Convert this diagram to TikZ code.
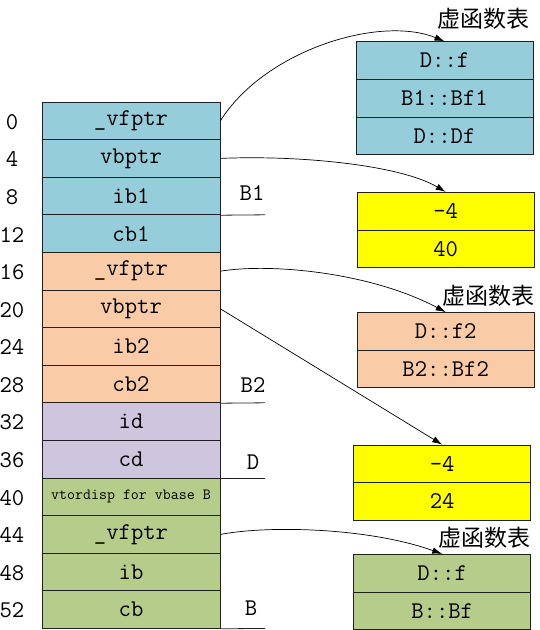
\documentclass[tikz,border=0pt]{standalone}
\usepackage{fontspec}
\newfontfamily\cjk{Noto Sans CJK SC}
\usetikzlibrary{arrows.meta}
\definecolor{cblue}{HTML}{96CDDB}
\definecolor{cpeach}{HTML}{F9CBA7}
\definecolor{clav}{HTML}{CEC6DE}
\definecolor{cgreen}{HTML}{B6CC8B}
\definecolor{cyell}{HTML}{FFFF00}
\definecolor{cline}{HTML}{202020}
\begin{document}
\begin{tikzpicture}[x=1pt,y=-1pt,
  cell/.style={draw=cline, line width=0.8pt, minimum width=178pt, minimum height=37.6pt,
    inner sep=0pt, font=\fontsize{24}{24}\ttfamily},
  rcell/.style={cell, minimum width=177pt},
  small/.style={font=\fontsize{15.5}{15.5}\ttfamily},
  off/.style={inner sep=0pt, font=\fontsize{24}{24}\ttfamily},
  lbl/.style={inner sep=0pt, font=\fontsize{24}{24}\ttfamily},
  ttl/.style={inner sep=0pt, font=\cjk\fontsize{23}{23}\selectfont},
  sep/.style={draw=cline, line width=0.8pt},
  arr/.style={draw=black, line width=0.7pt, -{Latex[length=10pt,width=6.5pt]}}]
\useasboundingbox (0,0) rectangle (540,630);

% left column
\node[cell, fill=cblue]   (r0)  at (131,120.8) {\_vfptr};
\node[cell, fill=cblue]   (r1)  at (131,158.4) {vbptr};
\node[cell, fill=cblue]   (r2)  at (131,196.0) {ib1};
\node[cell, fill=cblue]   (r3)  at (131,233.6) {cb1};
\node[cell, fill=cpeach]  (r4)  at (131,271.2) {\_vfptr};
\node[cell, fill=cpeach]  (r5)  at (131,308.8) {vbptr};
\node[cell, fill=cpeach]  (r6)  at (131,346.4) {ib2};
\node[cell, fill=cpeach]  (r7)  at (131,384.0) {cb2};
\node[cell, fill=clav]    (r8)  at (131,421.6) {id};
\node[cell, fill=clav]    (r9)  at (131,459.2) {cd};
\node[cell, fill=cgreen, small] (r10) at (131,496.8) {vtordisp for vbase B};
\node[cell, fill=cgreen]  (r11) at (131,534.4) {\_vfptr};
\node[cell, fill=cgreen]  (r12) at (131,572.0) {ib};
\node[cell, fill=cgreen]  (r13) at (131,609.6) {cb};

% offsets
\node[off] (o0)  at (12,121.8) {0};
\node[off] (o1)  at (12,159.4) {4};
\node[off] (o2)  at (12,197.0) {8};
\node[off] (o3)  at (12,234.6) {12};
\node[off] (o4)  at (12,272.2) {16};
\node[off] (o5)  at (12,309.8) {20};
\node[off] (o6)  at (12,347.4) {24};
\node[off] (o7)  at (12,385.0) {28};
\node[off] (o8)  at (12,422.6) {32};
\node[off] (o9)  at (12,460.2) {36};
\node[off] (o10) at (12,497.8) {40};
\node[off] (o11) at (12,535.4) {44};
\node[off] (o12) at (12,573.0) {48};
\node[off] (o13) at (12,610.6) {52};

% class boundary lines and labels
\coordinate (e1) at (265,214.8);
\coordinate (e2) at (265,402.8);
\coordinate (e3) at (265,478.4);
\coordinate (e4) at (265,628.4);
\draw[sep] (r2.south east) -- (e1);
\draw[sep] (r7.south east) -- (e2);
\draw[sep] (r9.south east) -- (e3);
\draw[sep] (r13.south east) -- (e4);
\node[lbl] (lB1) at (252,193) {B1};
\node[lbl] (lB2) at (253,385) {B2};
\node[lbl] (lD)  at (253,462) {D};
\node[lbl] (lB)  at (251,608) {B};

% vtable of B1 part
\node[ttl] (t1) at (483,18.5) {虚函数表};
\node[rcell, fill=cblue] (v1a) at (444.5,60.5)  {D::f};
\node[rcell, fill=cblue] (v1b) at (444.5,98.1)  {B1::Bf1};
\node[rcell, fill=cblue] (v1c) at (444.5,135.7) {D::Df};

% vbtable of B1 part
\node[rcell, fill=cyell] (y1a) at (445.7,211.1) {-4};
\node[rcell, fill=cyell] (y1b) at (445.7,248.7) {40};

% vtable of B2 part
\node[ttl] (t2) at (488,295.5) {虚函数表};
\node[rcell, fill=cpeach] (o1a) at (445.7,331.3) {D::f2};
\node[rcell, fill=cpeach] (o1b) at (445.7,368.9) {B2::Bf2};

% vbtable of B2 part
\node[rcell, fill=cyell] (y2a) at (442.2,463.8) {-4};
\node[rcell, fill=cyell] (y2b) at (442.2,501.4) {24};

% vtable of B
\node[ttl] (t3) at (484,537.5) {虚函数表};
\node[rcell, fill=cgreen] (g1a) at (442.2,573.1) {D::f};
\node[rcell, fill=cgreen] (g1b) at (442.2,610.7) {B::Bf};

% pointers
\draw[arr] (r0.east) .. controls (265,50) and (380,15) .. (v1a.north);
\draw[arr] (r1.east) .. controls (300,155) and (400,165) .. (y1a.north);
\draw[arr] (r4.east) .. controls (270,263) and (370,272) .. (o1a.north);
\draw[arr] (r5.east) -- (y2a.north);
\draw[arr] (r11.east) .. controls (270,525) and (370,528) .. (g1a.north);
\end{tikzpicture}
\end{document}
